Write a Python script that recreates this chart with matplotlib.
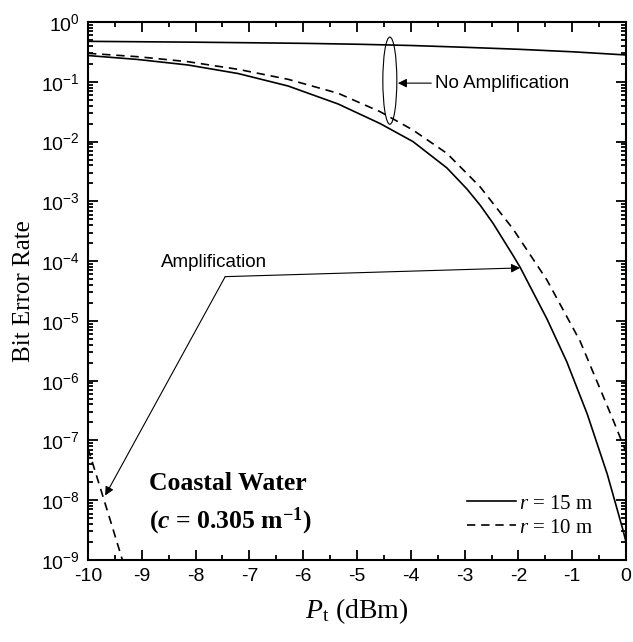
import numpy as np
import matplotlib
import matplotlib.pyplot as plt
from matplotlib.patches import Ellipse
from matplotlib.ticker import LogLocator, NullFormatter, MultipleLocator

plt.rcParams['axes.unicode_minus'] = False
plt.rcParams['mathtext.fontset'] = 'custom'
plt.rcParams['mathtext.rm'] = 'Liberation Serif'
plt.rcParams['mathtext.it'] = 'Liberation Serif:italic'
plt.rcParams['mathtext.bf'] = 'Liberation Serif:bold'
plt.rcParams['mathtext.bfit'] = 'Liberation Serif:italic:bold'
plt.rcParams['mathtext.sf'] = 'Liberation Sans'

# no amplification, r = 15 m
pt_noamp = [-10, -8, -6, -5, -4, -3, -2, -1, 0]
ber_noamp = [0.475, 0.46, 0.44, 0.425, 0.405, 0.378, 0.35, 0.318, 0.281]

# amplification, r = 15 m (solid)
pt_r15 = [-10, -9.07, -8.14, -7.21, -6.28, -5.35, -4.57, -3.96, -3.33, -2.96, -2.71,
          -2.47, -2.10, -1.97, -1.47, -1.10, -0.72, -0.35, -0.06, 0]
ber_r15 = [0.275, 0.236, 0.191, 0.1375, 0.085, 0.0425, 0.020, 0.0100, 3.63e-3, 1.62e-3, 8.6e-4,
           4.27e-4, 1.245e-4, 7.94e-5, 1.08e-5, 2.06e-6, 2.75e-7, 2.75e-8, 3.25e-9, 2.0e-9]

# r = 10 m (dashed)
pt_r10 = [-10, -9.07, -8.14, -7.21, -6.28, -5.35, -4.57, -3.96, -3.33, -2.71,
          -2.10, -1.47, -0.855, -0.24, 0]
ber_r10 = [0.2995, 0.2627, 0.2167, 0.1617, 0.110, 0.0642, 0.0316, 0.0156, 6.36e-3, 1.74e-3,
           3.45e-4, 4.83e-5, 4.61e-6, 2.2e-7, 6.4e-8]

# r = 10 m, amplification (dashed, lower left)
pt_r10_amp = [-10, -9.8, -9.6, -9.36]
ber_r10_amp = [7.4e-8, 1.95e-8, 5.1e-9, 1.0e-9]

xticks = list(range(-10, 1))
xtick_labels = [str(v) for v in xticks]
yticks = [10.0 ** e for e in range(-9, 1)]
ytick_labels = [r'$\mathsf{10^{%d}}$' % e for e in range(-9, 1)]

fig = plt.figure(figsize=(6.33, 6.42), dpi=100)
ax = fig.add_axes([0.139, 0.1277, 0.850, 0.838])

lw = 1.2
ax.plot(pt_noamp, ber_noamp, color='black', lw=lw)
ax.plot(pt_r15, ber_r15, color='black', lw=lw, label=r'$\it{r}$ = 15 m')
ax.plot(pt_r10, ber_r10, color='black', lw=lw, dashes=(5, 3.5), label=r'$\it{r}$ = 10 m')
ax.plot(pt_r10_amp, ber_r10_amp, color='black', lw=lw, dashes=(5, 3.5))

ax.set_yscale('log')
ax.set_xlim(-10, 0)
ax.set_ylim(1e-9, 1)

ax.set_xticks(xticks)
ax.set_xticklabels(xtick_labels, fontfamily='Liberation Sans', fontsize=14)
ax.xaxis.set_minor_locator(MultipleLocator(0.5))
ax.set_yticks(yticks)
ax.set_yticklabels(ytick_labels, fontsize=14)
ax.yaxis.set_minor_locator(LogLocator(base=10, subs=np.arange(2, 10), numticks=20))
ax.yaxis.set_minor_formatter(NullFormatter())

ax.tick_params(which='both', direction='in', top=True, right=True, width=1.3)
ax.tick_params(which='major', length=7, pad=6)
ax.tick_params(which='minor', length=3.5)
for s in ax.spines.values():
    s.set_linewidth(1.5)

ax.set_xlabel(r'$P_{\rm t}$ (dBm)', fontfamily='Liberation Serif', fontsize=20, labelpad=8)
ax.set_ylabel('Bit Error Rate', fontfamily='Liberation Serif', fontsize=18, labelpad=4)

leg = ax.legend(loc='lower right', bbox_to_anchor=(0.958, 0.022), frameon=False,
                prop={'family': 'Liberation Serif', 'size': 15},
                handlelength=2.35, handletextpad=0.15, labelspacing=0.22, borderpad=0)

ax.text(0.113, 0.143, 'Coastal Water', transform=ax.transAxes, fontfamily='Liberation Serif',
        fontweight='bold', fontsize=18.5, va='center', ha='left')
ax.text(0.113, 0.071, r'($\mathbfit{c}$ = 0.305 m$^{\mathbf{-1}}$)', transform=ax.transAxes,
        fontfamily='Liberation Serif', fontweight='bold', fontsize=18.5, va='center', ha='left')

# annotations
arrow = dict(arrowstyle='-|>', lw=0.8, color='black', mutation_scale=13, shrinkA=0, shrinkB=0)
ax.add_patch(Ellipse((0.561, 0.891), 0.026, 0.162, transform=ax.transAxes,
                     fill=False, lw=0.8, color='black'))
ax.annotate('', xy=(-4.24, 0.095), xytext=(-3.62, 0.095), arrowprops=arrow)
ax.text(-3.55, 0.095, 'No Amplification', fontfamily='Liberation Sans', fontsize=13.5,
        va='center', ha='left')

ax.text(-7.66, 9.5e-5, 'Amplification', fontfamily='Liberation Sans', fontsize=13.5,
        va='center', ha='center')
ax.annotate('', xy=(-1.97, 7.7e-5), xytext=(-7.45, 5.5e-5), arrowprops=arrow)
ax.annotate('', xy=(-9.68, 1.2e-8), xytext=(-7.45, 5.5e-5), arrowprops=arrow)

fig.savefig('out.png', dpi=100)
